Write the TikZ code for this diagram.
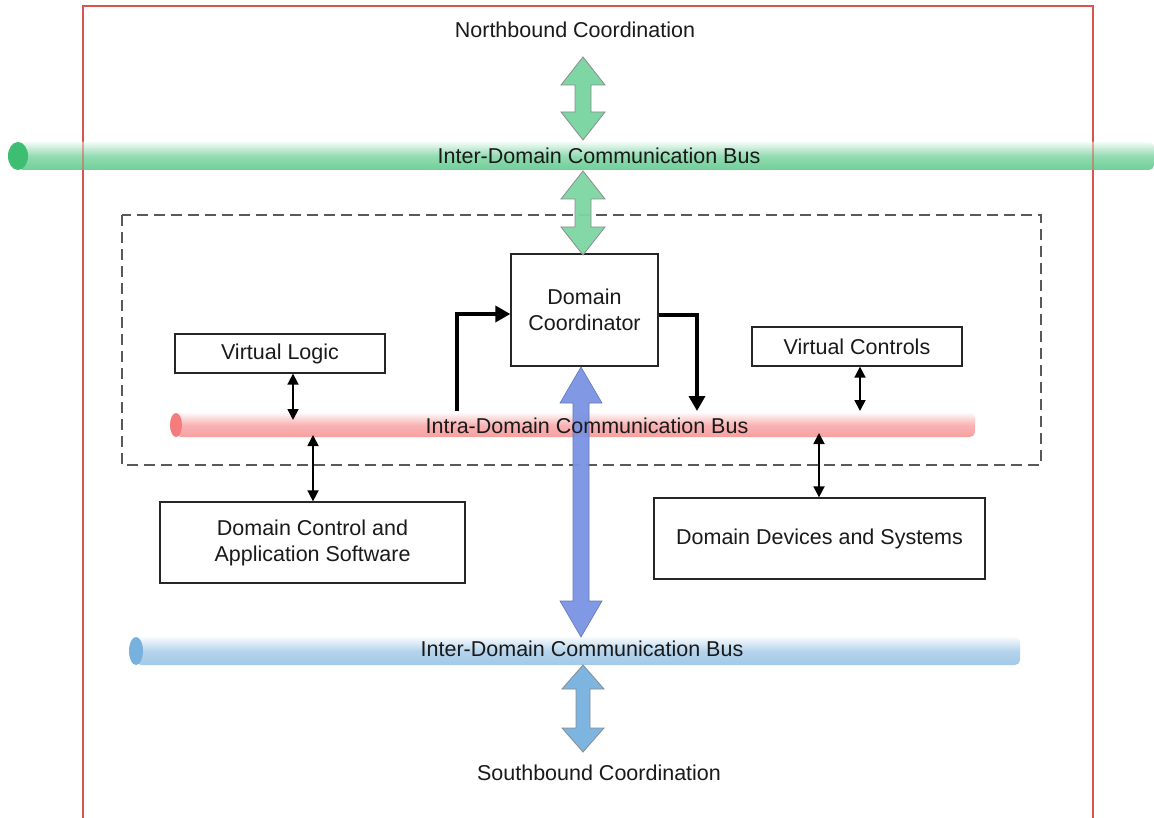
\documentclass[tikz,border=0pt]{standalone}
\usepackage{fontspec}
\setmainfont{Liberation Sans}
\usetikzlibrary{arrows.meta,calc}
\definecolor{frameRed}{HTML}{D9534F}
\definecolor{gArrow}{HTML}{7ED6A4}
\definecolor{gBus}{HTML}{6FCF98}
\definecolor{gEnd}{HTML}{3DBE72}
\definecolor{rBus}{HTML}{F7A0A0}
\definecolor{rEnd}{HTML}{F47C7C}
\definecolor{bBus}{HTML}{A2C9E8}
\definecolor{bEnd}{HTML}{78B0DE}
\definecolor{pArrow}{HTML}{7B93E3}
\definecolor{sArrow}{HTML}{7DB5E0}
\definecolor{txt}{HTML}{1A1A1A}
\newcommand{\dblarrow}[7]{%
  \draw[#7] (#1,#2) -- ({#1+#4},{#2+#6}) -- ({#1+#5},{#2+#6}) -- ({#1+#5},{#3-#6})
   -- ({#1+#4},{#3-#6}) -- (#1,#3) -- ({#1-#4},{#3-#6}) -- ({#1-#5},{#3-#6})
   -- ({#1-#5},{#2+#6}) -- ({#1-#4},{#2+#6}) -- cycle;}
\tikzset{
  lbl/.style={font=\fontsize{21.5}{26}\selectfont, text=txt, inner sep=0pt, align=center},
  boxnode/.style={draw=black!85, line width=1.3pt, fill=white, inner sep=0pt, lbl},
  busnode/.style={rounded corners=5pt, inner sep=0pt},
  thinarr/.style={line width=1.8pt, {Triangle[length=11pt,width=11pt]}-{Triangle[length=11pt,width=11pt]}},
  thickarr/.style={line width=3.5pt, -{Triangle[length=15pt,width=16pt]}},
  blk/.style={draw=black!45, line width=0.8pt},
}
\begin{document}
\begin{tikzpicture}[x=1pt,y=-1pt]
\useasboundingbox (0,0) rectangle (1154,818);
\fill[white] (0,0) rectangle (1154,818);
% red frame
\draw[frameRed, line width=1.3pt] (83,840) -- (83,6) -- (1093,6) -- (1093,840);
% dashed box
\draw[black!65, line width=1.5pt, dash pattern=on 11pt off 6pt] (122,215) rectangle (1041,465);
% buses
\node[busnode, minimum width=1136pt, minimum height=28pt, top color=gBus!8, bottom color=gBus, middle color=gBus!75] (gbus) at (586,156) {};
\fill[gEnd] (18,156) ellipse (10pt and 14pt);
\node[busnode, minimum width=799pt, minimum height=24pt, top color=rBus!8, bottom color=rBus, middle color=rBus!80] (rbus) at (575.5,425) {};
\fill[rEnd] (176,425) ellipse (6pt and 12pt);
\node[busnode, minimum width=884pt, minimum height=28pt, top color=bBus!8, bottom color=bBus, middle color=bBus!80] (bbus) at (578,651) {};
\fill[bEnd] (136,651) ellipse (7pt and 14pt);
% red frame seen through green bus
\draw[frameRed, line width=1.2pt, opacity=0.5] (83,142) -- (83,170) (1093,142) -- (1093,170);
% labels
\node[lbl] (nb) at (575,30) {Northbound Coordination};
\node[lbl] (sb) at (599,773) {Southbound Coordination};
% boxes
\node[boxnode, minimum width=147pt, minimum height=112pt] (dc) at (584.5,310) {Domain\\Coordinator};
\node[boxnode, minimum width=210pt, minimum height=39pt] (vl) at (280,353.5) {Virtual Logic};
\node[boxnode, minimum width=210pt, minimum height=39pt] (vc) at (857,346.5) {Virtual Controls};
\node[boxnode, minimum width=305pt, minimum height=81pt] (dcas) at (312.5,542.5) {Domain Control and\\Application Software};
\node[boxnode, minimum width=331pt, minimum height=81pt] (dds) at (819.5,538.5) {Domain Devices and Systems};
% big block arrows
\dblarrow{583}{57}{140}{22}{8}{28}{blk, fill=gArrow}
\dblarrow{583}{171}{255}{22}{8}{28}{blk, fill=gArrow, fill opacity=0.95}
\dblarrow{581}{367}{637}{21}{8}{36}{draw=pArrow!80!black, line width=0.6pt, fill=pArrow, fill opacity=0.95}
\dblarrow{583}{665}{752}{21}{7}{24}{blk, fill=sArrow}
% bus labels
\node[lbl] (gbl) at (599,156) {Inter-Domain Communication Bus};
\node[lbl] (rbl) at (587,426) {Intra-Domain Communication Bus};
\node[lbl] (bbl) at (582,649) {Inter-Domain Communication Bus};
% thin double arrows
\coordinate (a1) at (293,420);
\coordinate (a2) at (860,411);
\coordinate (a3) at (313,435);
\coordinate (a4) at (819,433);
\draw[thinarr] (vl.south -| a1) -- (a1);
\draw[thinarr] (vc.south -| a2) -- (a2);
\draw[thinarr] (a3) -- (dcas.north -| a3);
\draw[thinarr] (a4) -- (dds.north -| a4);
% thick arrows
\coordinate (c1) at (457,411);
\coordinate (c2) at (697,411);
\draw[thickarr] (c1) |- ([yshift=-4pt]dc.west);
\draw[thickarr] ([yshift=-5pt]dc.east) -| (c2);
\end{tikzpicture}
\end{document}
